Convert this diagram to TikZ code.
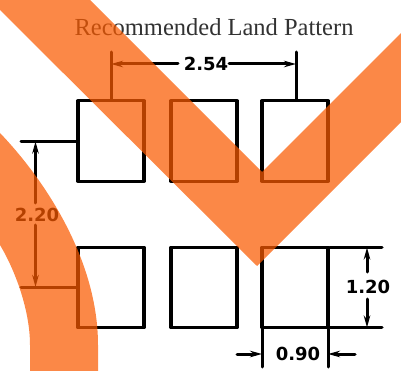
\documentclass[tikz,border=0pt]{standalone}
\usepackage{fontspec}
\setmainfont{Liberation Serif}
\newfontfamily\dimfont{DejaVu Sans}
\usetikzlibrary{arrows.meta}
\definecolor{stampOrange}{RGB}{250,90,0}
\definecolor{titleGray}{RGB}{50,50,50}

\begin{document}
\begin{tikzpicture}[x=1pt,y=-1pt]
			\tikzset{pad/.style = {shape=rectangle, draw, line width=3.2pt, line join=round, inner sep=0pt, minimum width=66pt, minimum height=80.5pt}}
			\tikzset{dimline/.style = {line width=3pt, line cap=round}}
			\tikzset{dimarrow/.style = {dimline, -{Stealth[length=12pt,width=6.5pt]}}}
			\tikzset{dimtext/.style = {font=\dimfont\bfseries\fontsize{18}{18}\selectfont, inner sep=0pt}}
			\tikzset{stamp/.style = {fill=stampOrange, fill opacity=0.72}}
			\useasboundingbox (0,0) rectangle (401,371);

			% pads
			\node[pad] (a1) at (111,141) {};
			\node[pad] (a2) at (204,141) {};
			\node[pad] (a3) at (295,141) {};
			\node[pad] (b1) at (111,287.5) {};
			\node[pad] (b2) at (204,287.5) {};
			\node[pad] (b3) at (295,287.5) {};

			% labels
			\node[font=\fontsize{24.5}{26}\selectfont, text=titleGray, inner sep=0pt] (title) at (214,27) {Recommended Land Pattern};
			\node[dimtext] (pitch) at (206,64) {2.54};
			\node[dimtext] (span) at (37,215) {2.20};
			\node[dimtext] (high) at (368,287) {1.20};
			\node[dimtext] (wide) at (298,354) {0.90};

			% free ends
			\coordinate (pitchL) at (111,52);
			\coordinate (pitchR) at (296,52);
			\coordinate (pitchLin) at (111,64);
			\coordinate (pitchRin) at (296,64);
			\coordinate (pitchLout) at (178,64);
			\coordinate (pitchRout) at (229,64);
			\coordinate (spanT) at (21,141.5);
			\coordinate (spanB) at (21,287);
			\coordinate (spanTin) at (35.5,141.5);
			\coordinate (spanBin) at (35.5,287);
			\coordinate (spanTout) at (35.5,203);
			\coordinate (spanBout) at (35.5,225);
			\coordinate (highT) at (382,247.5);
			\coordinate (highB) at (382,327.5);
			\coordinate (highTin) at (367,247.5);
			\coordinate (highBin) at (367,327.5);
			\coordinate (highTout) at (367,272);
			\coordinate (highBout) at (367,299);
			\coordinate (wideL) at (262,367);
			\coordinate (wideR) at (328,367);
			\coordinate (wideLout) at (237,354);
			\coordinate (wideRout) at (355,354);
			\coordinate (wideLin) at (262,354);
			\coordinate (wideRin) at (328,354);

			% extension lines
			\draw[dimline] (pitchL) to (pitchL |- a1.north);
			\draw[dimline] (pitchR) to (pitchR |- a3.north);
			\draw[dimline] (spanT) to (spanT -| a1.west);
			\draw[dimline] (spanB) to (spanB -| b1.west);
			\draw[dimline] (highT) to (highT -| b3.east);
			\draw[dimline] (highB) to (highB -| b3.east);
			\draw[dimline] (wideL) to (wideL |- b3.south);
			\draw[dimline] (wideR) to (wideR |- b3.south);

			% dimension lines
			\draw[dimarrow] (pitchLout) to (pitchLin);
			\draw[dimarrow] (pitchRout) to (pitchRin);
			\draw[dimarrow] (spanTout) to (spanTin);
			\draw[dimarrow] (spanBout) to (spanBin);
			\draw[dimarrow] (highTout) to (highTin);
			\draw[dimarrow] (highBout) to (highBin);
			\draw[dimarrow] (wideLout) to (wideLin);
			\draw[dimarrow] (wideRout) to (wideRin);

			% overlay
			\fill[stamp] (0,0) -- (90,0) -- (262,172) -- (401,33) -- (401,122) -- (257,266) -- (0,10) -- cycle;
			\fill[stamp] (0,133) .. controls (45,180) and (98,260) .. (98,345) -- (98,371) -- (30,371) -- (30,345) .. controls (30,310) and (15,270) .. (0,245) -- cycle;
\end{tikzpicture}
\end{document}
